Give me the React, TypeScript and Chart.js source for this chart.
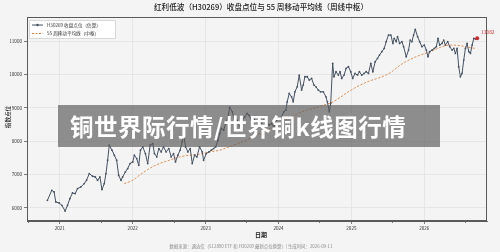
import React, { useEffect, useRef } from "react";
import { Chart, registerables } from "chart.js";

Chart.register(...registerables);

const titleText = "红利低波（H30269）收盘点位与 55 周移动平均线（周线中枢）";
const xAxisTitle = "日期";
const yAxisTitle = "指数点位";
const footerText = "数据来源：通达信（512890 ETF 和 H30269 最新点位换算）| 生成时间：2026-09-11";
const watermarkText = "铜世界际行情/世界铜k线图行情";
const closeLabel = "H30269 收盘点位（估算）";
const maLabel = "55 周移动平均线（中枢）";

const xTickValues = [2021, 2022, 2023, 2024, 2025, 2026];
const yTickValues = [6000, 7000, 8000, 9000, 10000, 11000];
const minorXTickValues = [2020.56, 2021.56, 2022.56, 2023.56, 2024.56, 2025.56, 2026.56];

const closeDates = [
  2020.83, 2020.89, 2020.922, 2020.945, 2020.991, 2021.028, 2021.073, 2021.106, 2021.138, 2021.174,
  2021.211, 2021.243, 2021.289, 2021.335, 2021.367, 2021.404, 2021.45, 2021.486, 2021.518, 2021.55,
  2021.578, 2021.61, 2021.633, 2021.656, 2021.679, 2021.716, 2021.748, 2021.78, 2021.807, 2021.839,
  2021.862, 2021.899, 2021.931, 2021.963, 2022.0, 2022.023, 2022.055, 2022.083, 2022.106, 2022.138,
  2022.174, 2022.206, 2022.239, 2022.275, 2022.298, 2022.33, 2022.358, 2022.39, 2022.422, 2022.459,
  2022.495, 2022.528, 2022.56, 2022.587, 2022.619, 2022.651, 2022.679, 2022.697, 2022.725, 2022.757,
  2022.789, 2022.817, 2022.849, 2022.881, 2022.917, 2022.954, 2022.972, 2023.009, 2023.046, 2023.078,
  2023.11, 2023.138, 2023.17, 2023.193, 2023.216, 2023.248, 2023.275, 2023.307, 2023.33, 2023.367,
  2023.399, 2023.431, 2023.468, 2023.505, 2023.537, 2023.569, 2023.596, 2023.628, 2023.661, 2023.697,
  2023.734, 2023.766, 2023.798, 2023.835, 2023.872, 2023.904, 2023.936, 2023.972, 2024.009, 2024.041,
  2024.073, 2024.101, 2024.119, 2024.147, 2024.179, 2024.202, 2024.225, 2024.257, 2024.284, 2024.317,
  2024.339, 2024.362, 2024.394, 2024.422, 2024.454, 2024.486, 2024.514, 2024.546, 2024.578, 2024.615,
  2024.651, 2024.67, 2024.697, 2024.716, 2024.743, 2024.761, 2024.789, 2024.821, 2024.844, 2024.867,
  2024.899, 2024.927, 2024.959, 2024.991, 2025.018, 2025.05, 2025.083, 2025.11, 2025.142, 2025.174,
  2025.202, 2025.234, 2025.266, 2025.294, 2025.326, 2025.358, 2025.385, 2025.417, 2025.45, 2025.477,
  2025.509, 2025.541, 2025.569, 2025.587, 2025.615, 2025.633, 2025.661, 2025.693, 2025.716, 2025.752,
  2025.784, 2025.807, 2025.83, 2025.853, 2025.876, 2025.908, 2025.936, 2025.968, 2026.0, 2026.028,
  2026.05, 2026.073, 2026.106, 2026.138, 2026.165, 2026.188, 2026.211, 2026.243, 2026.266, 2026.289,
  2026.321, 2026.349, 2026.381, 2026.404, 2026.427, 2026.45, 2026.472, 2026.495, 2026.518, 2026.541,
  2026.564, 2026.587, 2026.61, 2026.633, 2026.656, 2026.679, 2026.702, 2026.725,
];

const closeValues = [
  6230, 6530, 6480, 6180, 6150, 6080, 5910, 6080, 6280, 6450,
  6430, 6580, 6630, 6730, 6830, 7030, 6950, 6930, 6830, 6930,
  6550, 6730, 7030, 7430, 7880, 7730, 7580, 7430, 6980, 6830,
  6930, 7080, 7180, 7330, 7380, 7580, 7480, 7280, 7730, 7830,
  7630, 7330, 7880, 7930, 7630, 7530, 7780, 7680, 7830, 7680,
  7780, 7530, 7630, 7380, 7580, 7730, 7980, 8230, 7830, 7680,
  7780, 7330, 7580, 7530, 7830, 7680, 7430, 7630, 7680, 7730,
  7780, 7830, 8030, 8230, 8380, 8330, 8530, 8730, 9010, 8880,
  8580, 8630, 8430, 8630, 8730, 8830, 8780, 8630, 8680, 8580,
  8630, 8530, 8630, 8580, 8480, 8530, 8430, 8630, 8680, 8730,
  8880, 8930, 9180, 9430, 9330, 9180, 9480, 9630, 9980, 9530,
  9680, 9930, 9930, 9830, 9880, 9680, 9630, 9530, 9480, 9480,
  9330, 9180, 8880, 9130, 10330, 9930, 10080, 9980, 10080, 9880,
  9980, 10180, 10230, 10080, 9880, 10030, 9980, 10080, 9980, 10030,
  10080, 10030, 10330, 10080, 10380, 10480, 10580, 10680, 10780, 10980,
  11180, 11180, 10930, 11080, 10980, 11130, 10930, 10980, 10830, 10530,
  10730, 11030, 10980, 11180, 11350, 11130, 10980, 10830, 10880, 10730,
  10530, 10680, 10730, 10780, 10830, 11080, 10880, 10930, 11030, 10880,
  10980, 10830, 10730, 10780, 10630, 10780, 10230, 9930, 10030, 10430,
  10780, 10930, 10680, 10630, 10880, 11080, 11060, 11082,
];

const maDates = [
  2021.885, 2022.0, 2022.092, 2022.229, 2022.367, 2022.505, 2022.642, 2022.78, 2022.917, 2023.055,
  2023.193, 2023.284, 2023.422, 2023.56, 2023.697, 2023.835, 2023.972, 2024.11, 2024.248, 2024.385,
  2024.523, 2024.661, 2024.752, 2024.844, 2024.982, 2025.119, 2025.257, 2025.394, 2025.532, 2025.67,
  2025.807, 2025.945, 2026.083, 2026.22, 2026.358, 2026.495, 2026.633, 2026.702,
];

const maValues = [
  6730, 6830, 6980, 7180, 7330, 7430, 7530, 7580, 7610, 7680,
  7730, 7800, 7910, 8030, 8180, 8330, 8480, 8650, 8810, 8930,
  9010, 9110, 9180, 9310, 9510, 9680, 9810, 9910, 10050, 10280,
  10450, 10580, 10680, 10810, 10880, 10860, 10800, 10780,
];

const FONT = "'Noto Sans CJK SC', 'Noto Sans', sans-serif";
const BG = "#f4f4f4";
const LINE = "#465263";
const ORANGE = "#e0823c";
const RED = "#d62728";

const decorPlugin = {
  id: "decor",
  afterDraw(chart: any) {
    const { ctx, chartArea: a, scales } = chart;
    const x = scales.x;
    const y = scales.y;
    ctx.save();
    ctx.strokeStyle = "#5a5a5a";
    ctx.lineWidth = 1;
    ctx.strokeRect(a.left + 0.5, a.top + 0.5, a.right - a.left - 1, a.bottom - a.top - 1);
    ctx.lineWidth = 0.8;
    minorXTickValues.forEach((v) => {
      const px = Math.round(x.getPixelForValue(v)) + 0.5;
      if (px < a.left || px > a.right) return;
      ctx.beginPath();
      ctx.moveTo(px, a.bottom);
      ctx.lineTo(px, a.bottom + 2);
      ctx.stroke();
    });
    ctx.fillStyle = "#222";
    ctx.textAlign = "center";
    ctx.textBaseline = "middle";
    ctx.font = `500 7.6px ${FONT}`;
    ctx.fillText(titleText, 261, 7.5);
    ctx.font = `600 6px ${FONT}`;
    ctx.fillText(xAxisTitle, 261, 234.5);
    ctx.save();
    ctx.translate(7.5, 117);
    ctx.rotate(-Math.PI / 2);
    ctx.font = `500 5.6px ${FONT}`;
    ctx.fillText(yAxisTitle, 0, 0);
    ctx.restore();
    ctx.fillStyle = "#8a8a8a";
    ctx.font = `4.4px ${FONT}`;
    ctx.fillText(footerText, 251, 246);
    const lx = 29, ly = 20, lw = 86, lh = 18;
    ctx.fillStyle = "#ffffff";
    ctx.strokeStyle = "#cfcfcf";
    ctx.lineWidth = 0.8;
    ctx.beginPath();
    ctx.rect(lx + 0.5, ly + 0.5, lw, lh);
    ctx.fill();
    ctx.stroke();
    ctx.strokeStyle = LINE;
    ctx.lineWidth = 1;
    ctx.beginPath();
    ctx.moveTo(lx + 3, ly + 5);
    ctx.lineTo(lx + 14, ly + 5);
    ctx.stroke();
    ctx.fillStyle = LINE;
    ctx.beginPath();
    ctx.arc(lx + 8.5, ly + 5, 1.2, 0, Math.PI * 2);
    ctx.fill();
    ctx.strokeStyle = ORANGE;
    ctx.setLineDash([2, 1.5]);
    ctx.beginPath();
    ctx.moveTo(lx + 3, ly + 13.5);
    ctx.lineTo(lx + 14, ly + 13.5);
    ctx.stroke();
    ctx.setLineDash([]);
    ctx.fillStyle = "#333";
    ctx.textAlign = "left";
    ctx.font = `4.6px ${FONT}`;
    ctx.fillText(closeLabel, lx + 18, ly + 5);
    ctx.fillText(maLabel, lx + 18, ly + 13.5);
    const lastX = closeDates[closeDates.length - 1];
    const lastY = closeValues[closeValues.length - 1];
    const px = x.getPixelForValue(lastX);
    const py = y.getPixelForValue(lastY);
    ctx.fillStyle = RED;
    ctx.font = `4.8px ${FONT}`;
    ctx.fillText(String(lastY), px + 4, py - 6);
    ctx.restore();
  },
};

export default function App() {
  const ref = useRef<HTMLCanvasElement>(null);
  useEffect(() => {
    document.body.style.margin = "0";
    document.body.style.background = BG;
    const canvas = ref.current!;
    const closeData = closeDates.map((d, i) => ({ x: d, y: closeValues[i] }));
    const maData = maDates.map((d, i) => ({ x: d, y: maValues[i] }));
    const lastPoint = [{ x: closeDates[closeDates.length - 1], y: closeValues[closeValues.length - 1] }];
    const chart = new Chart(canvas, {
      type: "line",
      data: {
        datasets: [
          {
            label: "last",
            data: lastPoint,
            borderColor: RED,
            backgroundColor: RED,
            pointRadius: 2,
            pointBorderWidth: 0,
            showLine: false,
          },
          {
            label: closeLabel,
            data: closeData,
            borderColor: LINE,
            backgroundColor: LINE,
            borderWidth: 1,
            pointRadius: 0.9,
            pointBorderWidth: 0,
            pointBackgroundColor: LINE,
            tension: 0,
          },
          {
            label: maLabel,
            data: maData,
            borderColor: ORANGE,
            borderWidth: 0.9,
            borderDash: [2.2, 1.6],
            pointRadius: 0,
            cubicInterpolationMode: "monotone",
          },
        ],
      },
      options: {
        responsive: false,
        animation: false,
        devicePixelRatio: 1,
        layout: { padding: { top: 17, right: 13, left: 0, bottom: 0 } },
        plugins: {
          legend: { display: false },
          tooltip: { enabled: false },
          title: { display: false },
        },
        scales: {
          x: {
            type: "linear",
            min: 2020.55,
            max: 2026.86,
            afterFit: (s: any) => {
              s.height = 31;
            },
            afterBuildTicks: (s: any) => {
              s.ticks = xTickValues.map((v) => ({ value: v }));
            },
            grid: {
              color: "#e2e2e2",
              lineWidth: 0.8,
              tickColor: "#5a5a5a",
              tickLength: 3,
              drawTicks: true,
            },
            border: { display: true, color: "#5a5a5a" },
            ticks: {
              color: "#333",
              font: { family: FONT, size: 4.6 },
              padding: 1,
              maxRotation: 0,
              autoSkip: false,
              callback: (v: any) => String(v),
            },
          },
          y: {
            type: "linear",
            min: 5610,
            max: 11720,
            afterFit: (s: any) => {
              s.width = 27;
            },
            afterBuildTicks: (s: any) => {
              s.ticks = yTickValues.map((v) => ({ value: v }));
            },
            grid: {
              color: "#e2e2e2",
              lineWidth: 0.8,
              tickColor: "#5a5a5a",
              tickLength: 3,
            },
            border: { display: true, color: "#5a5a5a" },
            ticks: {
              color: "#333",
              font: { family: FONT, size: 4.6 },
              padding: 2,
              callback: (v: any) => String(v),
            },
          },
        },
      },
      plugins: [decorPlugin],
    });
    return () => chart.destroy();
  }, []);

  return (
    <div style={{ position: "absolute", left: 0, top: 0, width: 500, height: 252, background: BG }}>
      <canvas ref={ref} width={500} height={252} style={{ display: "block", width: 500, height: 252 }} />
      <div
        style={{
          position: "absolute",
          left: 58,
          top: 105,
          width: 382,
          height: 42,
          background: "rgba(88,88,88,0.66)",
          display: "flex",
          alignItems: "center",
          boxSizing: "border-box",
          paddingLeft: 12,
        }}
      >
        <span
          style={{
            color: "#ffffff",
            fontFamily: FONT,
            fontWeight: 700,
            fontSize: 23.5,
            letterSpacing: 0.5,
            lineHeight: "42px",
            whiteSpace: "nowrap",
          }}
        >
          {watermarkText}
        </span>
      </div>
    </div>
  );
}
